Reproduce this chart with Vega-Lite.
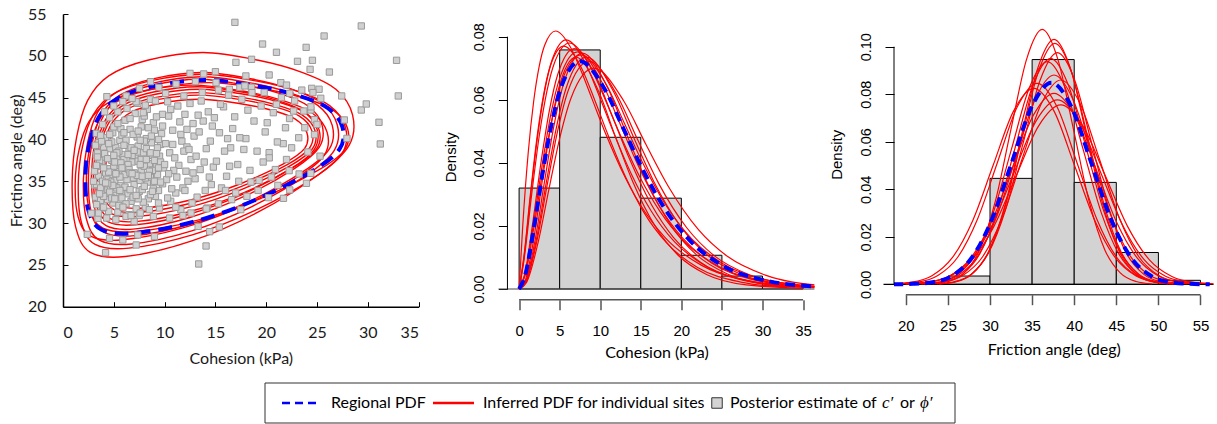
{
"$schema": "https://vega.github.io/schema/vega-lite/v6.json",
"padding": {"left": 8, "top": 6, "right": 0, "bottom": 1},
"config": {"view": {"stroke": null}, "axis": {"grid": false}},
"bounds": "flush",
"spacing": 369,
"vconcat": [
{
"bounds": "flush",
"spacing": 79.5,
"hconcat": [
{
"width": 355.6, "height": 292.7,
"encoding": {
"x": {"field": "c", "type": "quantitative", "scale": {"domain": [0, 35], "nice": false, "zero": false},
 "axis": {"values": [0,5,10,15,20,25,30,35], "title": "Cohesion (kPa)", "domainColor": "#000", "domainWidth": 1.5, "tickColor": "#000", "tickSize": -5, "labelFont": "Lato", "labelFontSize": 16, "labelColor": "#1a1a1a", "labelPadding": 23, "titleFont": "Lato", "titleFontSize": 16, "titleFontWeight": "normal", "titleColor": "#1a1a1a", "titlePadding": 10}},
"y": {"field": "phi", "type": "quantitative", "scale": {"domain": [20, 55], "nice": false, "zero": false},
 "axis": {"values": [20,25,30,35,40,45,50,55], "title": "Frictino angle (deg)", "domainColor": "#000", "domainWidth": 1.5, "tickColor": "#000", "tickSize": -5, "labelFont": "Lato", "labelFontSize": 16, "labelColor": "#1a1a1a", "labelPadding": 22, "titleFont": "Lato", "titleFontSize": 16, "titleFontWeight": "normal", "titleColor": "#1a1a1a", "titlePadding": 3}}
},
"layer": [
{"data": {"values": "id,i,c,phi\nr1,1,0.9,34.93\nr1,2,1.34,40.27\nr1,3,2.43,44.67\nr1,4,4.5,47.6\nr1,5,8.32,49.47\nr1,6,13.77,50.4\nr1,7,19.23,49.47\nr1,8,23.59,48.0\nr1,9,26.86,46.0\nr1,10,28.5,42.93\nr1,11,28.17,39.33\nr1,12,25.23,35.87\nr1,13,19.23,31.33\nr1,14,12.68,27.87\nr1,15,6.14,26.0\nr1,16,2.65,26.53\nr1,17,1.23,29.6\nr2,1,1.5,34.62\nr2,2,1.92,39.16\nr2,3,2.96,42.91\nr2,4,4.93,45.41\nr2,5,8.57,47.0\nr2,6,13.77,47.8\nr2,7,18.96,47.0\nr2,8,23.12,45.75\nr2,9,26.24,44.05\nr2,10,27.8,41.43\nr2,11,27.49,38.37\nr2,12,24.68,35.41\nr2,13,18.96,31.55\nr2,14,12.73,28.59\nr2,15,6.49,27.0\nr2,16,3.16,27.45\nr2,17,1.81,30.07\nr3,1,2.0,35.01\nr3,2,2.4,39.49\nr3,3,3.38,43.18\nr3,4,5.26,45.65\nr3,5,8.72,47.22\nr3,6,13.66,48.0\nr3,7,18.6,47.22\nr3,8,22.55,45.98\nr3,9,25.52,44.3\nr3,10,27.0,41.73\nr3,11,26.7,38.7\nr3,12,24.03,35.79\nr3,13,18.6,31.98\nr3,14,12.67,29.07\nr3,15,6.74,27.5\nr3,16,3.58,27.95\nr3,17,2.3,30.52\nr4,1,2.5,35.46\nr4,2,2.88,39.61\nr4,3,3.83,43.04\nr4,4,5.63,45.32\nr4,5,8.95,46.77\nr4,6,13.69,47.5\nr4,7,18.44,46.77\nr4,8,22.23,45.63\nr4,9,25.08,44.07\nr4,10,26.5,41.69\nr4,11,26.22,38.88\nr4,12,23.65,36.18\nr4,13,18.44,32.65\nr4,14,12.74,29.95\nr4,15,7.05,28.5\nr4,16,4.02,28.92\nr4,17,2.78,31.3\nr5,1,2.8,35.85\nr5,2,3.16,39.77\nr5,3,4.06,42.99\nr5,4,5.76,45.15\nr5,5,8.9,46.51\nr5,6,13.39,47.2\nr5,7,17.87,46.51\nr5,8,21.46,45.44\nr5,9,24.15,43.97\nr5,10,25.5,41.72\nr5,11,25.23,39.08\nr5,12,22.81,36.54\nr5,13,17.87,33.21\nr5,14,12.49,30.67\nr5,15,7.11,29.3\nr5,16,4.24,29.69\nr5,17,3.07,31.94\nr6,1,3.0,35.84\nr6,2,3.35,39.45\nr6,3,4.22,42.42\nr6,4,5.87,44.41\nr6,5,8.91,45.67\nr6,6,13.26,46.3\nr6,7,17.61,45.67\nr6,8,21.09,44.68\nr6,9,23.7,43.32\nr6,10,25.0,41.25\nr6,11,24.74,38.82\nr6,12,22.39,36.47\nr6,13,17.61,33.41\nr6,14,12.39,31.06\nr6,15,7.17,29.8\nr6,16,4.39,30.16\nr6,17,3.26,32.23\nr7,1,3.2,35.98\nr7,2,3.55,39.44\nr7,3,4.42,42.29\nr7,4,6.07,44.19\nr7,5,9.11,45.4\nr7,6,13.46,46.0\nr7,7,17.81,45.4\nr7,8,21.29,44.45\nr7,9,23.9,43.15\nr7,10,25.2,41.17\nr7,11,24.94,38.83\nr7,12,22.59,36.59\nr7,13,17.81,33.65\nr7,14,12.59,31.41\nr7,15,7.37,30.2\nr7,16,4.59,30.55\nr7,17,3.46,32.53\nr8,1,3.4,36.22\nr8,2,3.74,39.45\nr8,3,4.58,42.12\nr8,4,6.19,43.9\nr8,5,9.15,45.03\nr8,6,13.38,45.6\nr8,7,17.61,45.03\nr8,8,20.99,44.14\nr8,9,23.53,42.93\nr8,10,24.8,41.07\nr8,11,24.55,38.89\nr8,12,22.26,36.78\nr8,13,17.61,34.03\nr8,14,12.53,31.93\nr8,15,7.46,30.8\nr8,16,4.75,31.12\nr8,17,3.65,32.98\nr9,1,3.7,36.43\nr9,2,4.03,39.49\nr9,3,4.85,42.01\nr9,4,6.41,43.69\nr9,5,9.29,44.76\nr9,6,13.4,45.3\nr9,7,17.51,44.76\nr9,8,20.8,43.92\nr9,9,23.27,42.78\nr9,10,24.5,41.02\nr9,11,24.25,38.95\nr9,12,22.03,36.96\nr9,13,17.51,34.36\nr9,14,12.58,32.37\nr9,15,7.65,31.3\nr9,16,5.02,31.61\nr9,17,3.95,33.37\nr10,1,4.2,36.56\nr10,2,4.51,39.4\nr10,3,5.3,41.75\nr10,4,6.78,43.31\nr10,5,9.52,44.3\nr10,6,13.43,44.8\nr10,7,17.35,44.3\nr10,8,20.48,43.52\nr10,9,22.83,42.46\nr10,10,24.0,40.82\nr10,11,23.77,38.9\nr10,12,21.65,37.06\nr10,13,17.35,34.64\nr10,14,12.65,32.79\nr10,15,7.96,31.8\nr10,16,5.45,32.08\nr10,17,4.43,33.72\nr11,1,1.2,34.77\nr11,2,1.59,38.82\nr11,3,2.57,42.15\nr11,4,4.43,44.38\nr11,5,7.87,45.79\nr11,6,12.77,46.5\nr11,7,17.67,45.79\nr11,8,21.59,44.68\nr11,9,24.53,43.16\nr11,10,26.0,40.84\nr11,11,25.71,38.11\nr11,12,23.06,35.48\nr11,13,17.67,32.04\nr11,14,11.79,29.42\nr11,15,5.9,28.0\nr11,16,2.77,28.4\nr11,17,1.49,30.73\nr12,1,2.3,35.52\nr12,2,2.71,39.41\nr12,3,3.72,42.62\nr12,4,5.65,44.76\nr12,5,9.21,46.12\nr12,6,14.29,46.8\nr12,7,19.37,46.12\nr12,8,23.43,45.05\nr12,9,26.48,43.59\nr12,10,28.0,41.35\nr12,11,27.7,38.73\nr12,12,24.95,36.2\nr12,13,19.37,32.89\nr12,14,13.27,30.36\nr12,15,7.18,29.0\nr12,16,3.93,29.39\nr12,17,2.6,31.63", "format": {"type": "csv", "parse": {"i": "number", "c": "number", "phi": "number"}}},
 "mark": {"type": "line", "interpolate": "cardinal-closed", "stroke": "#ff0000", "strokeWidth": 1.4, "clip": true},
 "encoding": {"detail": {"field": "id"}, "order": {"field": "i", "type": "quantitative"}}},
{"data": {"values": "id,i,c,phi\nB,1,2.2,35.5\nB,2,2.6,39.5\nB,3,3.6,42.8\nB,4,5.5,45.0\nB,5,9.0,46.4\nB,6,14.0,47.1\nB,7,19.0,46.4\nB,8,23.0,45.3\nB,9,26.0,43.8\nB,10,27.5,41.5\nB,11,27.2,38.8\nB,12,24.5,36.2\nB,13,19.0,32.8\nB,14,13.0,30.2\nB,15,7.0,28.8\nB,16,3.8,29.2\nB,17,2.5,31.5", "format": {"type": "csv", "parse": {"i": "number", "c": "number", "phi": "number"}}},
 "mark": {"type": "line", "interpolate": "cardinal-closed", "stroke": "#0000ff", "strokeWidth": 4, "strokeDash": [14, 8], "clip": true},
 "encoding": {"detail": {"field": "id"}, "order": {"field": "i", "type": "quantitative"}}},
{"data": {"values": "c,phi\n16.92,54.0\n29.36,53.57\n25.7,52.37\n19.64,51.41\n23.93,51.01\n21.01,50.42\n32.83,49.46\n17.02,49.22\n18.56,49.58\n23.08,49.34\n24.55,49.46\n26.22,48.06\n24.32,48.38\n33.0,45.2\n27.43,45.2\n29.36,43.52\n29.85,44.24\n31.1,42.05\n31.23,39.46\n27.95,40.13\n27.69,42.33\n13.36,25.11\n14.08,27.26\n4.19,26.46\n2.39,28.65\n14.44,28.97\n15.38,29.53\n22.32,33.96\n21.7,32.96\n23.96,34.75\n22.26,36.27\n24.39,35.95\n23.24,35.87\n20.23,33.04\n21.15,34.51\n20.29,38.42\n21.67,39.5\n24.75,40.57\n24.75,42.37\n24.39,43.52\n25.2,46.0\n25.37,44.92\n24.48,46.11\n22.32,45.51\n21.44,46.79\n20.29,47.71\n18.0,47.59\n18.56,46.23\n17.41,46.23\n16.37,45.99\n15.06,46.79\n15.0,48.1\n13.85,47.83\n12.5,47.9\n13.03,46.91\n11.13,46.63\n9.43,46.23\n8.61,46.91\n7.53,46.11\n6.22,45.2\n4.32,45.12\n5.89,44.52\n7.36,44.32\n3.27,40.73\n3.27,38.14\n3.11,34.55\n2.78,31.17\n3.44,30.57\n4.58,28.18\n5.89,27.98\n7.36,28.58\n9.0,28.38\n7.2,27.38\n3.2,33.1\n3.5,35.6\n3.8,37.2\n4.1,34.0\n4.4,36.5\n4.6,38.9\n4.9,32.4\n5.1,35.1\n5.3,37.8\n5.6,39.9\n5.8,33.6\n3.4,38.4\n3.9,31.8\n4.2,40.2\n4.7,35.8\n5.0,33.3\n5.4,36.4\n5.7,34.5\n3.6,36.8\n4.0,39.1\n4.5,31.4\n4.8,37.5\n5.2,39.0\n5.5,32.1\n5.9,38.2\n3.3,34.6\n3.7,32.7\n4.3,35.3\n4.9,40.8\n5.6,36.9\n3.1,36.2\n3.9,35.0\n4.6,33.7\n5.3,34.2\n5.9,35.9\n4.1,37.9\n4.8,39.7\n5.5,38.6\n3.5,39.6\n4.4,32.8\n5.0,36.8\n5.8,40.5\n3.8,33.9\n4.7,34.9\n5.4,31.3\n4.2,36.0\n5.1,37.3\n3.6,37.5\n4.0,33.2\n5.7,41.3\n6.1,34.3\n6.3,36.7\n6.5,38.8\n6.7,32.6\n6.9,35.4\n7.1,37.9\n7.3,40.3\n7.5,33.8\n7.7,36.2\n7.9,38.4\n8.1,31.9\n8.3,34.9\n8.5,37.1\n8.7,39.6\n8.9,42.0\n9.1,33.2\n9.3,35.8\n9.5,38.0\n9.7,40.7\n9.9,36.6\n6.2,39.9\n6.4,33.5\n6.6,41.2\n6.8,37.3\n7.0,34.6\n7.2,31.7\n7.4,39.2\n7.6,35.1\n7.8,42.4\n8.0,36.8\n8.2,40.1\n8.4,32.9\n8.6,35.5\n8.8,38.1\n9.0,41.1\n9.2,36.9\n9.4,33.9\n9.6,39.4\n9.8,43.0\n6.0,37.6\n6.3,35.2\n6.7,39.0\n7.0,36.0\n7.4,37.4\n7.8,34.0\n8.2,38.9\n8.6,33.4\n9.0,37.5\n9.4,40.0\n9.8,34.7\n6.5,31.0\n7.1,43.1\n7.7,41.5\n8.3,43.6\n8.9,30.8\n9.5,31.8\n6.1,42.3\n6.9,40.6\n7.5,30.9\n8.1,44.1\n6.4,37.0\n7.3,35.7\n8.0,39.8\n8.8,36.3\n9.6,37.3\n6.6,34.0\n7.9,32.5\n9.2,42.7\n10.2,35.2\n10.5,38.4\n10.8,41.1\n11.1,33.6\n11.4,36.9\n11.7,39.8\n12.0,43.0\n12.3,35.0\n12.6,37.6\n12.9,40.4\n13.2,33.1\n13.5,36.4\n13.8,42.2\n14.1,38.9\n14.4,35.5\n14.7,41.6\n10.4,42.8\n10.9,36.3\n11.3,44.0\n11.8,34.2\n12.2,39.1\n12.7,32.4\n13.1,38.0\n13.6,44.6\n14.0,33.9\n14.5,39.8\n10.1,39.5\n10.6,32.6\n11.0,37.8\n11.5,42.1\n12.1,36.2\n12.5,44.3\n13.0,35.3\n13.4,40.9\n13.9,37.3\n14.3,43.3\n14.8,36.7\n10.3,44.5\n11.6,31.6\n12.8,41.9\n14.2,31.8\n10.7,34.1\n11.9,38.6\n13.3,42.9\n14.6,34.6\n15.1,37.4\n15.4,40.8\n15.8,43.9\n16.1,35.6\n16.5,39.0\n16.9,42.7\n17.2,37.0\n17.6,44.8\n18.0,40.1\n18.4,36.3\n18.8,42.2\n19.1,38.6\n19.5,44.0\n19.9,40.9\n20.3,37.8\n20.7,43.2\n21.1,39.7\n21.5,45.0\n21.9,41.4\n15.6,34.2\n16.3,45.3\n17.0,33.6\n17.8,38.8\n18.6,45.6\n19.3,35.1\n20.1,42.0\n20.9,36.4\n15.3,45.9\n16.7,41.3\n17.4,40.2\n18.2,43.5\n19.7,37.3\n15.9,38.6\n16.4,36.8\n17.3,35.0\n22.3,42.5\n22.8,44.6\n23.2,40.2\n23.7,43.4\n24.1,38.5\n24.6,45.6\n25.0,41.8\n22.5,39.0\n23.5,45.9\n24.4,43.9\n25.3,38.0\n22.0,46.5\n3.3,36.9\n3.7,34.2\n4.1,38.3\n4.5,36.1\n4.9,34.5\n5.3,38.4\n5.7,37.2\n6.1,35.8\n6.5,36.4\n6.9,33.1\n7.3,38.5\n7.7,37.6\n8.1,35.4\n8.5,36.2\n8.9,34.1\n3.5,31.2\n4.3,30.6\n5.2,30.4\n6.2,30.8\n7.0,30.2\n3.9,41.8\n4.6,42.6\n5.4,43.3\n6.3,43.7\n7.2,44.5\n3.2,39.3\n5.0,41.5\n6.0,40.8\n4.4,34.7\n5.6,35.5\n6.8,38.1\n7.6,39.9\n8.4,41.4\n4.0,36.6\n5.8,33.0\n6.6,36.0\n7.4,32.9\n8.0,34.4\n8.7,40.4\n9.3,39.0\n10.5,30.6\n11.8,30.9\n12.6,31.2\n14.1,31.7\n15.3,32.3\n16.6,32.8\n18.1,33.2\n19.2,33.9\n17.5,31.6\n13.3,29.6\n3.0,35.0\n3.4,37.9\n3.6,33.5\n3.8,39.8\n4.0,31.9\n4.2,34.8\n4.4,37.7\n4.6,40.6\n4.8,33.0\n5.0,38.1\n5.2,35.9\n5.4,41.9\n5.6,33.9\n5.8,36.6\n6.0,39.3\n6.2,32.3\n6.4,38.2\n6.6,42.5\n6.8,35.9\n7.0,38.7\n7.2,33.3\n7.4,41.0\n7.6,37.0\n7.8,35.6\n8.0,42.8\n8.2,37.6\n8.4,35.7\n8.6,38.4\n8.8,33.8\n9.0,35.0\n9.2,38.3\n9.4,36.6\n9.6,34.9\n9.8,41.6\n10.0,37.0\n10.4,35.9\n10.8,39.4\n11.2,35.5\n11.6,40.6\n12.0,33.9\n12.4,38.8\n12.8,36.0\n3.3,32.2\n3.7,40.5\n4.5,39.5\n5.1,32.9\n5.9,31.9\n6.7,30.9\n7.6,31.2\n8.5,31.6\n9.4,32.4\n10.3,33.0\n11.1,31.9\n4.1,43.3\n5.0,44.0\n6.8,44.9\n8.6,44.8\n10.1,45.5\n11.9,45.2\n13.7,45.6\n15.5,44.2\n17.9,46.4\n19.8,45.6\n21.0,44.2\n22.7,43.4\n23.8,41.4\n16.0,33.9\n18.5,34.9\n20.5,35.5\n22.0,37.6\n12.2,41.2\n14.9,42.6\n16.2,40.1\n10.6,43.6\n9.1,44.6\n7.9,43.2", "format": {"type": "csv", "parse": {"c": "number", "phi": "number"}}},
 "mark": {"type": "point", "shape": "square", "size": 40, "filled": true, "fill": "#d0d0d0", "stroke": "#9a9a9a", "strokeWidth": 1, "opacity": 1}}
]
},
{
"width": 315.9, "height": 285.7,
"encoding": {
"x": {"field": "x", "type": "quantitative", "scale": {"domain": [-2.54, 36.4], "nice": false, "zero": false},
 "axis": {"values": [0,5,10,15,20,25,30,35], "title": "Cohesion (kPa)", "domain": false, "tickColor": "#555", "tickWidth": 1.5, "tickSize": 10, "labelFont": "Liberation Sans", "labelFontSize": 15, "labelColor": "#000", "labelPadding": 14, "titleFont": "Lato", "titleFontSize": 16, "titleFontWeight": "normal", "titleColor": "#000", "titlePadding": 6}},
"y": {"field": "y", "type": "quantitative", "scale": {"domain": [-0.00339, 0.08719], "nice": false, "zero": false},
 "axis": {"values": [0,0.02,0.04,0.06,0.08], "format": ".2f", "title": "Density", "domain": false, "offset": -8.9, "tickColor": "#000", "tickSize": 9, "labelAngle": -90, "labelAlign": "center", "labelBaseline": "bottom", "labelFont": "Liberation Sans", "labelFontSize": 14.5, "labelColor": "#000", "labelPadding": 12, "titleFont": "Liberation Sans", "titleFontSize": 15, "titleFontWeight": "normal", "titleColor": "#000", "titlePadding": 13}}
},
"layer": [
{"data": {"values": "x,x2,y\n0,5,0.032\n5,10,0.0758\n10,15,0.0481\n15,20,0.0288\n20,25,0.0107\n25,30,0.0041\n30,35,0.001", "format": {"type": "csv", "parse": {"x": "number", "x2": "number", "y": "number"}}},
 "mark": {"type": "rect", "fill": "#d3d3d3", "stroke": "#000", "strokeWidth": 1},
 "encoding": {"x2": {"field": "x2"}, "y2": {"datum": 0}}},
{"data": {"values": [{"x": -2.54, "x2": 36.4, "y": 0}]},
 "mark": {"type": "rule", "color": "#444", "strokeWidth": 1, "clip": false},
 "encoding": {"x2": {"field": "x2"}}},
{"data": {"values": "id,x,y\nr1,0,0\nr1,0.45,0.0201\nr1,1.125,0.0433\nr1,1.8,0.0596\nr1,2.475,0.0706\nr1,3.15,0.0773\nr1,4.5,0.0818\nr1,6.3,0.0768\nr1,7.65,0.0691\nr1,9,0.0602\nr1,10.8,0.0484\nr1,12.6,0.0379\nr1,14.85,0.0271\nr1,18,0.0163\nr1,22.5,0.0075\nr1,27,0.0033\nr1,36,0.0006\nr2,0,0\nr2,0.58,0.0096\nr2,1.45,0.0304\nr2,2.32,0.0492\nr2,3.19,0.0633\nr2,4.06,0.0726\nr2,5.8,0.079\nr2,8.12,0.0718\nr2,9.86,0.0613\nr2,11.6,0.0499\nr2,13.92,0.036\nr2,16.24,0.0249\nr2,19.14,0.015\nr2,23.2,0.007\nr2,29,0.0022\nr2,34.8,0.0006\nr3,0,0\nr3,0.62,0.0095\nr3,1.55,0.03\nr3,2.48,0.0485\nr3,3.41,0.0625\nr3,4.34,0.0716\nr3,6.2,0.078\nr3,8.68,0.0709\nr3,10.54,0.0605\nr3,12.4,0.0492\nr3,14.88,0.0355\nr3,17.36,0.0246\nr3,20.46,0.0148\nr3,24.8,0.0069\nr3,31,0.0022\nr3,37.2,0.0006\nr4,0,0\nr4,0.55,0.0094\nr4,1.375,0.0296\nr4,2.2,0.0479\nr4,3.025,0.0617\nr4,3.85,0.0707\nr4,5.5,0.077\nr4,7.7,0.07\nr4,9.35,0.0597\nr4,11,0.0486\nr4,13.2,0.0351\nr4,15.4,0.0242\nr4,18.15,0.0147\nr4,22,0.0068\nr4,27.5,0.0021\nr4,33,0.0006\nr5,0,0\nr5,0.68,0.0046\nr5,1.7,0.0213\nr5,2.72,0.0405\nr5,3.74,0.0567\nr5,4.76,0.068\nr5,6.8,0.0762\nr5,9.52,0.0671\nr5,11.56,0.0543\nr5,13.6,0.0413\nr5,16.32,0.0267\nr5,19.04,0.0163\nr5,22.44,0.0083\nr5,27.2,0.003\nr5,34,0.0006\nr6,0,0\nr6,0.72,0.0045\nr6,1.8,0.0211\nr6,2.88,0.0399\nr6,3.96,0.056\nr6,5.04,0.0671\nr6,7.2,0.0752\nr6,10.08,0.0662\nr6,12.24,0.0536\nr6,14.4,0.0407\nr6,17.28,0.0263\nr6,20.16,0.0161\nr6,23.76,0.0082\nr6,28.8,0.003\nr6,36,0.0006\nr7,0,0\nr7,0.76,0.0045\nr7,1.9,0.0208\nr7,3.04,0.0394\nr7,4.18,0.0552\nr7,5.32,0.0662\nr7,7.6,0.0742\nr7,10.64,0.0653\nr7,12.92,0.0529\nr7,15.2,0.0402\nr7,18.24,0.026\nr7,21.28,0.0159\nr7,25.08,0.0081\nr7,30.4,0.0029\nr7,38,0.0006\nr8,0,0\nr8,0.78,0.0022\nr8,1.95,0.0152\nr8,3.12,0.0339\nr8,4.29,0.0517\nr8,5.46,0.0649\nr8,7.8,0.0748\nr8,10.92,0.0638\nr8,13.26,0.049\nr8,15.6,0.0347\nr8,18.72,0.0202\nr8,21.84,0.0109\nr8,25.74,0.0047\nr8,31.2,0.0013\nr8,39,0.0002\nr9,0,0\nr9,0.83,0.0022\nr9,2.075,0.015\nr9,3.32,0.0333\nr9,4.565,0.0508\nr9,5.81,0.0638\nr9,8.3,0.0735\nr9,11.62,0.0627\nr9,14.11,0.0481\nr9,16.6,0.0341\nr9,19.92,0.0198\nr9,23.24,0.0107\nr9,27.39,0.0046\nr9,33.2,0.0013\nr9,41.5,0.0002\nr10,0,0\nr10,0.86,0.0022\nr10,2.15,0.0147\nr10,3.44,0.0327\nr10,4.73,0.0499\nr10,6.02,0.0627\nr10,8.6,0.0722\nr10,12.04,0.0616\nr10,14.62,0.0473\nr10,17.2,0.0335\nr10,20.64,0.0195\nr10,24.08,0.0105\nr10,28.38,0.0045\nr10,34.4,0.0013\nr10,43,0.0002\nr11,0,0\nr11,0.92,0.0021\nr11,2.3,0.0143\nr11,3.68,0.0317\nr11,5.06,0.0484\nr11,6.44,0.0608\nr11,9.2,0.07\nr11,12.88,0.0597\nr11,15.64,0.0458\nr11,18.4,0.0325\nr11,22.08,0.0189\nr11,25.76,0.0102\nr11,30.36,0.0044\nr11,36.8,0.0012\nr12,0,0\nr12,0.7,0.0022\nr12,1.75,0.015\nr12,2.8,0.0333\nr12,3.85,0.0508\nr12,4.9,0.0638\nr12,7,0.0735\nr12,9.8,0.0627\nr12,11.9,0.0481\nr12,14,0.0341\nr12,16.8,0.0198\nr12,19.6,0.0107\nr12,23.1,0.0046\nr12,28,0.0013\nr12,35,0.0002", "format": {"type": "csv", "parse": {"x": "number", "y": "number"}}},
 "mark": {"type": "line", "interpolate": "monotone", "stroke": "#ff0000", "strokeWidth": 1.2, "clip": true},
 "encoding": {"detail": {"field": "id"}}},
{"data": {"values": "id,x,y\nB,0,0\nB,0.75,0.0044\nB,1.875,0.0202\nB,3.0,0.0383\nB,4.125,0.0537\nB,5.25,0.0645\nB,7.5,0.0722\nB,10.5,0.0636\nB,12.75,0.0515\nB,15,0.0391\nB,18,0.0253\nB,21,0.0155\nB,24.75,0.0079\nB,30,0.0029\nB,37.5,0.0006", "format": {"type": "csv", "parse": {"x": "number", "y": "number"}}},
 "mark": {"type": "line", "interpolate": "monotone", "stroke": "#0000ff", "strokeWidth": 4, "strokeDash": [10, 6], "clip": true},
 "encoding": {"detail": {"field": "id"}}},
{"data": {"values": [{"x": 0, "x2": 35, "y": -0.00339}]},
 "mark": {"type": "rule", "color": "#555", "strokeWidth": 1.5, "clip": false},
 "encoding": {"x2": {"field": "x2"}}},
{"data": {"values": [{"x": -1.438, "y": 0, "y2": 0.08}]},
 "mark": {"type": "rule", "color": "#000", "strokeWidth": 1, "clip": false},
 "encoding": {"y2": {"field": "y2"}}}
]
},
{
"width": 319.5, "height": 280.7,
"encoding": {
"x": {"field": "x", "type": "quantitative", "scale": {"domain": [18.595, 56.545], "nice": false, "zero": false},
 "axis": {"values": [20,25,30,35,40,45,50,55], "title": "Friction angle (deg)", "domain": false, "tickColor": "#555", "tickWidth": 1.5, "tickSize": 10, "labelFont": "Liberation Sans", "labelFontSize": 15, "labelColor": "#000", "labelPadding": 14, "titleFont": "Lato", "titleFontSize": 16, "titleFontWeight": "normal", "titleColor": "#000", "titlePadding": 8}},
"y": {"field": "y", "type": "quantitative", "scale": {"domain": [-0.00436, 0.11377], "nice": false, "zero": false},
 "axis": {"values": [0,0.02,0.04,0.06,0.08,0.1], "format": ".2f", "title": "Density", "domain": false, "tickColor": "#000", "tickSize": 9, "labelAngle": -90, "labelAlign": "center", "labelBaseline": "bottom", "labelFont": "Liberation Sans", "labelFontSize": 14.5, "labelColor": "#000", "labelPadding": 12, "titleFont": "Liberation Sans", "titleFontSize": 15, "titleFontWeight": "normal", "titleColor": "#000", "titlePadding": 14}}
},
"layer": [
{"data": {"values": "x,x2,y\n20,25,0.0004\n25,30,0.0035\n30,35,0.0446\n35,40,0.0946\n40,45,0.0429\n45,50,0.0134\n50,55,0.0017", "format": {"type": "csv", "parse": {"x": "number", "x2": "number", "y": "number"}}},
 "mark": {"type": "rect", "fill": "#d3d3d3", "stroke": "#000", "strokeWidth": 1},
 "encoding": {"x2": {"field": "x2"}, "y2": {"datum": 0}}},
{"data": {"values": [{"x": 17.35, "x2": 56.545, "y": 0}]},
 "mark": {"type": "rule", "color": "#000", "strokeWidth": 1.2, "clip": false},
 "encoding": {"x2": {"field": "x2"}}},
{"data": {"values": "id,x,y\nn1,23.18,0.0002\nn1,25.04,0.0012\nn1,26.9,0.0047\nn1,28.76,0.0145\nn1,30.62,0.0348\nn1,32.48,0.0651\nn1,34.34,0.0947\nn1,36.2,0.1073\nn1,38.06,0.0947\nn1,39.92,0.0651\nn1,41.78,0.0348\nn1,43.64,0.0145\nn1,45.5,0.0047\nn1,47.36,0.0012\nn1,49.22,0.0002\nn2,24.06,0.0002\nn2,25.99,0.0011\nn2,27.93,0.0045\nn2,29.86,0.0139\nn2,31.8,0.0335\nn2,33.73,0.0625\nn2,35.67,0.091\nn2,37.6,0.1031\nn2,39.54,0.091\nn2,41.47,0.0625\nn2,43.41,0.0335\nn2,45.34,0.0139\nn2,47.28,0.0045\nn2,49.21,0.0011\nn2,51.15,0.0002\nn3,23.95,0.0002\nn3,25.91,0.0011\nn3,27.88,0.0045\nn3,29.84,0.0137\nn3,31.81,0.0329\nn3,33.77,0.0615\nn3,35.74,0.0895\nn3,37.7,0.1014\nn3,39.67,0.0895\nn3,41.63,0.0615\nn3,43.6,0.0329\nn3,45.56,0.0137\nn3,47.53,0.0045\nn3,49.49,0.0011\nn3,51.46,0.0002\nn4,23.69,0.0002\nn4,25.73,0.0011\nn4,27.78,0.0043\nn4,29.82,0.0132\nn4,31.87,0.0317\nn4,33.91,0.0591\nn4,35.96,0.086\nn4,38,0.0975\nn4,40.05,0.086\nn4,42.09,0.0591\nn4,44.14,0.0317\nn4,46.18,0.0132\nn4,48.23,0.0043\nn4,50.27,0.0011\nn4,52.32,0.0002\nn5,22.5,0.0002\nn5,24.6,0.0011\nn5,26.7,0.0042\nn5,28.8,0.0129\nn5,30.9,0.0309\nn5,33.0,0.0577\nn5,35.1,0.0839\nn5,37.2,0.0951\nn5,39.3,0.0839\nn5,41.4,0.0577\nn5,43.5,0.0309\nn5,45.6,0.0129\nn5,47.7,0.0042\nn5,49.8,0.0011\nn5,51.9,0.0002\nn6,21.89,0.0002\nn6,24.02,0.001\nn6,26.15,0.0041\nn6,28.28,0.0127\nn6,30.41,0.0304\nn6,32.54,0.0568\nn6,34.67,0.0827\nn6,36.8,0.0937\nn6,38.93,0.0827\nn6,41.06,0.0568\nn6,43.19,0.0304\nn6,45.32,0.0127\nn6,47.45,0.0041\nn6,49.58,0.001\nn6,51.71,0.0002\nn7,21.75,0.0002\nn7,24.01,0.001\nn7,26.28,0.0039\nn7,28.54,0.0119\nn7,30.81,0.0286\nn7,33.07,0.0534\nn7,35.34,0.0777\nn7,37.6,0.0881\nn7,39.87,0.0777\nn7,42.13,0.0534\nn7,44.4,0.0286\nn7,46.66,0.0119\nn7,48.93,0.0039\nn7,51.19,0.001\nn7,53.46,0.0002\nn8,22.16,0.0002\nn8,24.48,0.001\nn8,26.8,0.0038\nn8,29.12,0.0116\nn8,31.44,0.0279\nn8,33.76,0.0522\nn8,36.08,0.0759\nn8,38.4,0.086\nn8,40.72,0.0759\nn8,43.04,0.0522\nn8,45.36,0.0279\nn8,47.68,0.0116\nn8,50.0,0.0038\nn8,52.32,0.001\nn8,54.64,0.0002\nn9,19.08,0.0002\nn9,21.44,0.0009\nn9,23.8,0.0037\nn9,26.16,0.0114\nn9,28.52,0.0275\nn9,30.88,0.0513\nn9,33.24,0.0747\nn9,35.6,0.0846\nn9,37.96,0.0747\nn9,40.32,0.0513\nn9,42.68,0.0275\nn9,45.04,0.0114\nn9,47.4,0.0037\nn9,49.76,0.0009\nn9,52.12,0.0002\nn10,18.26,0.0002\nn10,20.68,0.0009\nn10,23.1,0.0036\nn10,25.52,0.0112\nn10,27.94,0.0268\nn10,30.36,0.05\nn10,32.78,0.0728\nn10,35.2,0.0825\nn10,37.62,0.0728\nn10,40.04,0.05\nn10,42.46,0.0268\nn10,44.88,0.0112\nn10,47.3,0.0036\nn10,49.72,0.0009\nn10,52.14,0.0002\nn11,20.24,0.0002\nn11,22.72,0.0009\nn11,25.2,0.0035\nn11,27.68,0.0109\nn11,30.16,0.0261\nn11,32.64,0.0488\nn11,35.12,0.071\nn11,37.6,0.0804\nn11,40.08,0.071\nn11,42.56,0.0488\nn11,45.04,0.0261\nn11,47.52,0.0109\nn11,50.0,0.0035\nn11,52.48,0.0009\nn11,54.96,0.0002\nn12,20.01,0.0002\nn12,22.58,0.0009\nn12,25.15,0.0034\nn12,27.72,0.0105\nn12,30.29,0.0252\nn12,32.86,0.0471\nn12,35.43,0.0685\nn12,38,0.0776\nn12,40.57,0.0685\nn12,43.14,0.0471\nn12,45.71,0.0252\nn12,48.28,0.0105\nn12,50.85,0.0034\nn12,53.42,0.0009\nn12,55.99,0.0002\nn13,19.92,0.0002\nn13,22.56,0.0008\nn13,25.2,0.0033\nn13,27.84,0.0102\nn13,30.48,0.0245\nn13,33.12,0.0458\nn13,35.76,0.0666\nn13,38.4,0.0755\nn13,41.04,0.0666\nn13,43.68,0.0458\nn13,46.32,0.0245\nn13,48.96,0.0102\nn13,51.6,0.0033\nn13,54.24,0.0008\nn13,56.88,0.0002", "format": {"type": "csv", "parse": {"x": "number", "y": "number"}}},
 "mark": {"type": "line", "interpolate": "monotone", "stroke": "#ff0000", "strokeWidth": 1.2, "clip": true},
 "encoding": {"detail": {"field": "id"}}},
{"data": {"values": "id,x,y\nB,18.5,0.0\nB,20.85,0.0002\nB,23.2,0.0009\nB,25.55,0.0037\nB,27.9,0.0115\nB,30.25,0.0275\nB,32.6,0.0514\nB,34.95,0.0748\nB,37.3,0.0848\nB,39.65,0.0748\nB,42.0,0.0514\nB,44.35,0.0275\nB,46.7,0.0115\nB,49.05,0.0037\nB,51.4,0.0009\nB,53.75,0.0002\nB,56.1,0.0", "format": {"type": "csv", "parse": {"x": "number", "y": "number"}}},
 "mark": {"type": "line", "interpolate": "monotone", "stroke": "#0000ff", "strokeWidth": 4, "strokeDash": [10, 6], "clip": true},
 "encoding": {"detail": {"field": "id"}}},
{"data": {"values": [{"x": 20, "x2": 55, "y": -0.00436}]},
 "mark": {"type": "rule", "color": "#555", "strokeWidth": 1.5, "clip": false},
 "encoding": {"x2": {"field": "x2"}}},
{"data": {"values": [{"x": 18.595, "y": 0, "y2": 0.1}]},
 "mark": {"type": "rule", "color": "#000", "strokeWidth": 1, "clip": false},
 "encoding": {"y2": {"field": "y2"}}}
]
}
]
},
{
"width": 1154, "height": 40,
"encoding": {
"x": {"field": "x", "type": "quantitative", "scale": {"domain": [0, 1154], "nice": false, "zero": false}, "axis": null},
"y": {"field": "y", "type": "quantitative", "scale": {"domain": [0, 40], "reverse": true, "nice": false, "zero": false}, "axis": null}
},
"layer": [
{"data": {"values": [{"x": 202, "x2": 892, "y": 0, "y2": 40}]},
 "mark": {"type": "rect", "fill": "#ffffff", "stroke": "#333333", "strokeWidth": 1},
 "encoding": {"x2": {"field": "x2"}, "y2": {"field": "y2"}}},
{"data": {"values": [{"x": 219, "x2": 258, "y": 20}]},
 "mark": {"type": "rule", "color": "#0000ff", "strokeWidth": 2.5, "strokeDash": [8, 5]},
 "encoding": {"x2": {"field": "x2"}}},
{"data": {"values": [{"x": 370, "x2": 411, "y": 20}]},
 "mark": {"type": "rule", "color": "#ff0000", "strokeWidth": 2.5},
 "encoding": {"x2": {"field": "x2"}}},
{"data": {"values": [{"x": 654, "y": 20}]},
 "mark": {"type": "point", "shape": "square", "size": 110, "filled": true, "fill": "#d3d3d3", "stroke": "#333333", "strokeWidth": 1, "opacity": 1}},
{"data": {"values": [{"x": 268, "y": 20, "t": "Regional PDF"}, {"x": 420, "y": 20, "t": "Inferred PDF for individual sites"}, {"x": 667, "y": 20, "t": "Posterior estimate of"}, {"x": 837, "y": 20, "t": "or"}]},
 "mark": {"type": "text", "align": "left", "baseline": "middle", "font": "Lato", "fontSize": 16, "color": "#000"},
 "encoding": {"text": {"field": "t"}}},
{"data": {"values": [{"x": 819, "y": 20, "t": "c′"}, {"x": 857, "y": 20, "t": "ϕ′"}]},
 "mark": {"type": "text", "align": "left", "baseline": "middle", "font": "Liberation Serif", "fontStyle": "italic", "fontSize": 17, "color": "#000"},
 "encoding": {"text": {"field": "t"}}}
]
}
]
}
